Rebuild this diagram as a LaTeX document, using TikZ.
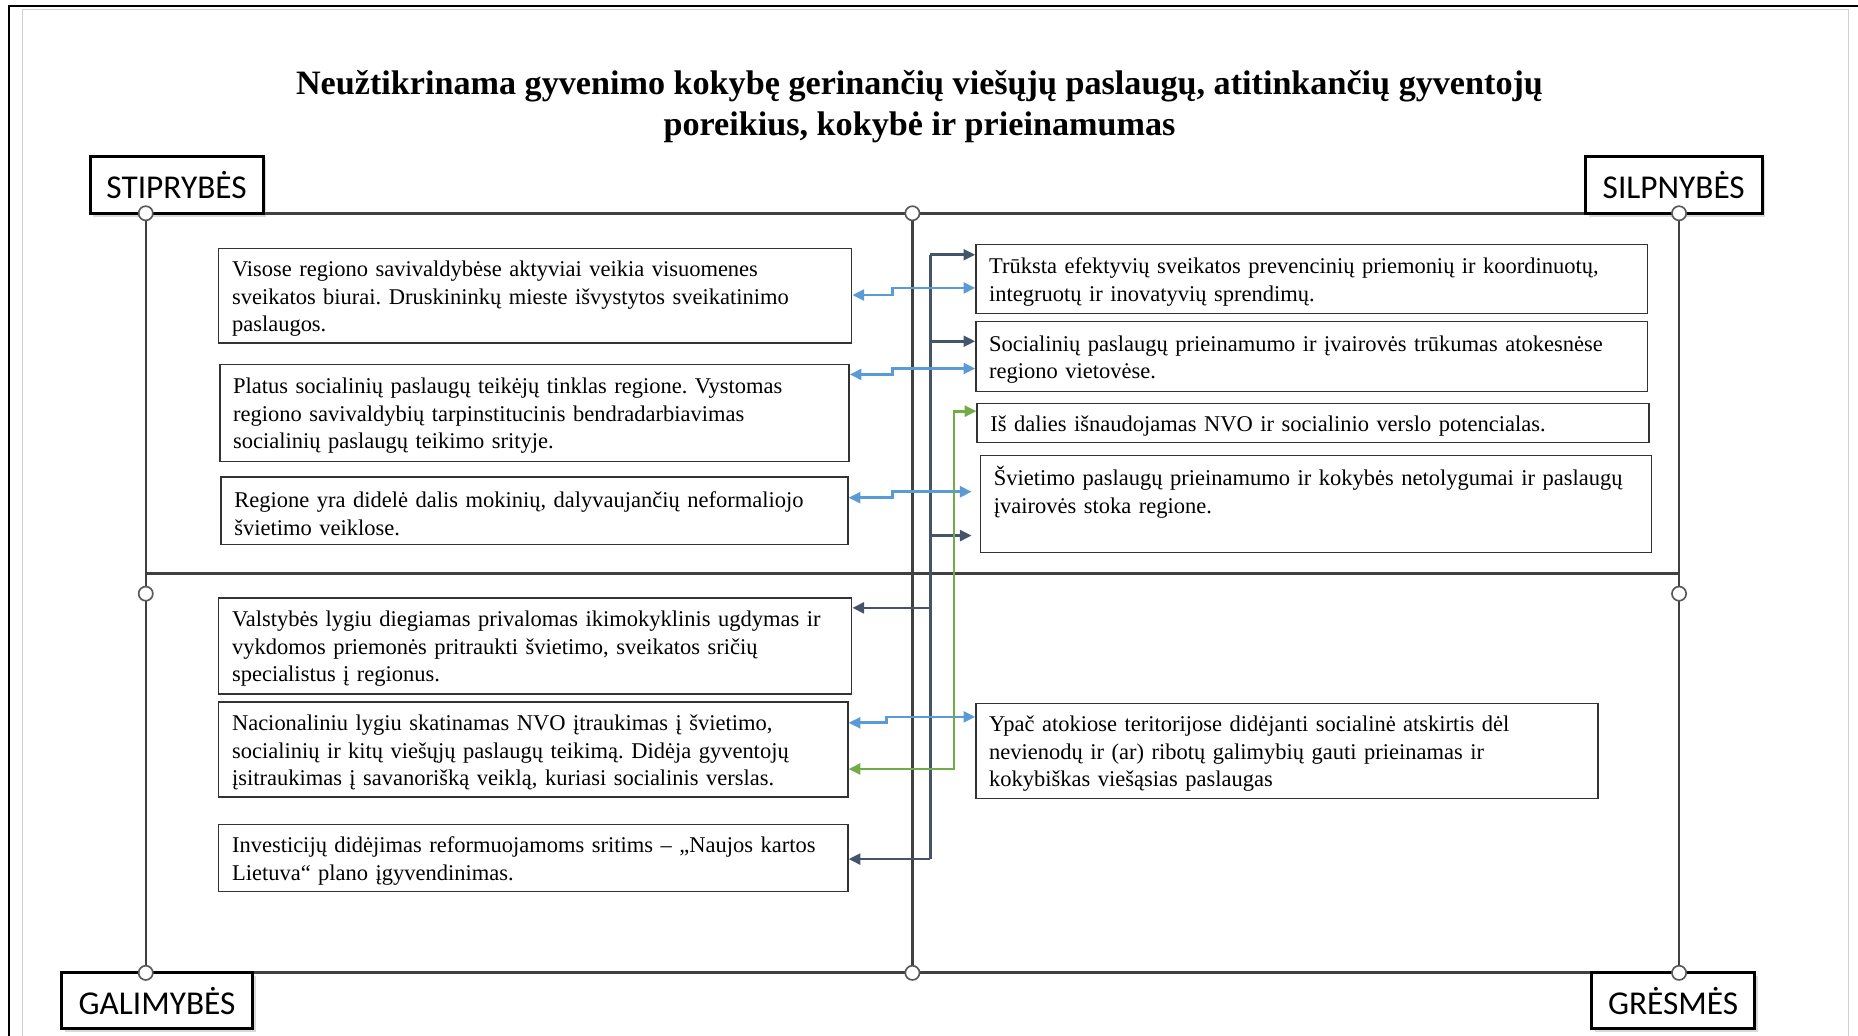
\documentclass[tikz,border=0pt]{standalone}
\usepackage{fontspec}
\setmainfont{Liberation Serif}
\newfontfamily\labelfont{Carlito}
\usetikzlibrary{positioning}
\usetikzlibrary{calc}
\usetikzlibrary{shadows}
\usetikzlibrary{arrows.meta}
\definecolor{navy}{HTML}{44546A}
\definecolor{lblue}{HTML}{5B9BD5}
\definecolor{lgreen}{HTML}{70AD47}
\definecolor{gridgray}{HTML}{404040}
\newcommand{\boxfont}{\frenchspacing\fontsize{13.5}{16.5}\selectfont}

\begin{document}
\begin{tikzpicture}[x=0.025cm,y=-0.025cm,
    >={Triangle[length=7pt,width=6.5pt]},
    item/.style={draw=black!80,line width=0.8pt,anchor=north west,inner xsep=8pt,align=left,
        text height=13pt,font=\boxfont},
    quad/.style={draw=black,line width=1.8pt,fill=white,minimum height=1.2cm,
        font=\labelfont\fontsize{20}{24}\selectfont,
        drop shadow={opacity=0.3,shadow xshift=2pt,shadow yshift=-2pt}},
    knot/.style={circle,draw=black!65,fill=white,line width=1pt,inner sep=0pt,minimum size=0.3cm},
    frame/.style={gridgray,line width=1.3pt},
    navyline/.style={navy,line width=1.6pt},
    blueline/.style={lblue,line width=1.6pt},
    greenline/.style={lgreen,line width=1.6pt}
]
    \useasboundingbox (0,0) rectangle (1568,874);

    % Page
    \draw[black!18,line width=1pt] (19,880) -- (19,8) -- (1560,8) -- (1560,880);
    \draw[black,line width=1.2pt] (8,874) -- (8,5) -- (1568,5);

    % Title
    \node[align=center,font=\fontsize{20.5}{24.8}\selectfont\bfseries] (title) at (776,90)
        {Neužtikrinama gyvenimo kokybę gerinančių viešųjų paslaugų, atitinkančių gyventojų\\
         poreikius, kokybė ir prieinamumas};

    % Frame
    \coordinate (tl) at (123,180);
    \coordinate (tm) at (770,180);
    \coordinate (tr) at (1417,180);
    \coordinate (ml) at (123,484);
    \coordinate (mr) at (1417,484);
    \coordinate (bl) at (123,821);
    \coordinate (bm) at (770,821);
    \coordinate (br) at (1417,821);
    \draw[frame,line width=1.7pt] (tl) -- (tr);
    \draw[frame,line width=1.7pt] (bl) -- (br);
    \draw[frame] (tl) -- (bl);
    \draw[frame] (tm) -- (bm);
    \draw[frame] (tr) -- (br);
    \draw[frame] (ml) -- (mr);

    % Quadrant labels
    \node[quad,minimum width=3.65cm] (STR) at (149,156) {STIPRYBĖS};
    \node[quad,minimum width=3.725cm] (WEA) at (1412.5,156) {SILPNYBĖS};
    \node[quad,minimum width=4.025cm,minimum height=1.175cm] (OPP) at (132.5,844.5) {GALIMYBĖS};
    \node[quad,minimum width=3.45cm,minimum height=1.175cm] (THR) at (1412,844.5) {GRĖSMĖS};

    \node[knot] (k1) at (tl) {};
    \node[knot] (k2) at (tm) {};
    \node[knot] (k3) at (tr) {};
    \node[knot] (k4) at (123,501) {};
    \node[knot] (k5) at (1417,501) {};
    \node[knot] (k6) at (bl) {};
    \node[knot] (k7) at (bm) {};
    \node[knot] (k8) at (br) {};

    % Strengths
    \node[item,text width=12.79cm,minimum height=2cm] (S1) at (184,209)
        {Visose regiono savivaldybėse aktyviai veikia visuomenes\\
         sveikatos biurai. Druskininkų mieste išvystytos sveikatinimo\\
         paslaugos.};
    \node[item,text width=12.71cm,minimum height=2.05cm] (S2) at (185,307)
        {Platus socialinių paslaugų teikėjų tinklas regione. Vystomas\\
         regiono savivaldybių tarpinstitucinis bendradarbiavimas\\
         socialinių paslaugų teikimo srityje.};
    \node[item,text width=12.66cm,minimum height=1.425cm] (S3) at (186,402)
        {Regione yra didelė dalis mokinių, dalyvaujančių neformaliojo\\
         švietimo veiklose.};

    % Opportunities
    \node[item,text width=12.79cm,minimum height=2.025cm] (O1) at (184,504)
        {Valstybės lygiu diegiamas privalomas ikimokyklinis ugdymas ir\\
         vykdomos priemonės pritraukti švietimo, sveikatos sričių\\
         specialistus į regionus.};
    \node[item,text width=12.71cm,minimum height=2cm] (O2) at (184,592)
        {Nacionaliniu lygiu skatinamas NVO įtraukimas į švietimo,\\
         socialinių ir kitų viešųjų paslaugų teikimą. Didėja gyventojų\\
         įsitraukimas į savanorišką veiklą, kuriasi socialinis verslas.};
    \node[item,text width=12.71cm,minimum height=1.425cm] (O3) at (184,695)
        {Investicijų didėjimas reformuojamoms sritims – „Naujos kartos\\
         Lietuva“ plano įgyvendinimas.};

    % Weaknesses
    \node[item,text width=13.61cm,minimum height=1.45cm] (W1) at (823,206)
        {Trūksta efektyvių sveikatos prevencinių priemonių ir koordinuotų,\\
         integruotų ir inovatyvių sprendimų.};
    \node[item,text width=13.61cm,minimum height=1.475cm] (W2) at (823,271)
        {Socialinių paslaugų prieinamumo ir įvairovės trūkumas atokesnėse\\
         regiono vietovėse.};
    \node[item,text width=13.61cm,minimum height=0.825cm] (W3) at (824,340)
        {Iš dalies išnaudojamas NVO ir socialinio verslo potencialas.};
    \node[item,text width=13.59cm,inner ysep=6pt,text height=12pt,text depth=34pt] (W4) at (827,384)
        {Švietimo paslaugų prieinamumo ir kokybės netolygumai ir paslaugų\\
         įvairovės stoka regione.};

    % Threats
    \node[item,text width=12.56cm,minimum height=2cm] (T1) at (823,593)
        {Ypač atokiose teritorijose didėjanti socialinė atskirtis dėl\\
         nevienodų ir (ar) ribotų galimybių gauti prieinamas ir\\
         kokybiškas viešąsias paslaugas};

    % Connection
    \coordinate (nv1) at (785,215);
    \coordinate (nv2) at (785,288);
    \coordinate (nv3) at (785,452);
    \coordinate (nv4) at (785,513);
    \coordinate (nv5) at (785,725);
    \draw[navyline] (nv1) -- (nv5);
    \draw[navyline,->] (nv1) -- (nv1 -| W1.west);
    \draw[navyline,->] (nv2) -- (nv2 -| W2.west);
    \draw[navyline,->,shorten >=5pt] (nv3) -- (nv3 -| W4.west);
    \draw[navyline,->] (nv4) -- (nv4 -| O1.east);
    \draw[navyline,->] (nv5) -- (nv5 -| O3.east);

    \coordinate (bs1) at (753,249);
    \coordinate (bs1u) at (753,243);
    \coordinate (bs2) at (753,316);
    \coordinate (bs2u) at (753,311);
    \coordinate (bs3) at (753,420);
    \coordinate (bs3u) at (753,415);
    \coordinate (bs4) at (748,610);
    \coordinate (bs4u) at (748,605);
    \draw[blueline,<->] (bs1 -| S1.east) -- (bs1) -- (bs1u) -- (bs1u -| W1.west);
    \draw[blueline,<->] (bs2 -| S2.east) -- (bs2) -- (bs2u) -- (bs2u -| W2.west);
    \draw[blueline,<->,shorten >=5pt] (bs3 -| S3.east) -- (bs3) -- (bs3u) -- (bs3u -| W4.west);
    \draw[blueline,<->] (bs4 -| O2.east) -- (bs4) -- (bs4u) -- (bs4u -| T1.west);

    \coordinate (gn1) at (805,347);
    \coordinate (gn2) at (805,649);
    \draw[greenline,<->] (gn1 -| W3.west) -- (gn1) -- (gn2) -- (gn2 -| O2.east);
\end{tikzpicture}
\end{document}
